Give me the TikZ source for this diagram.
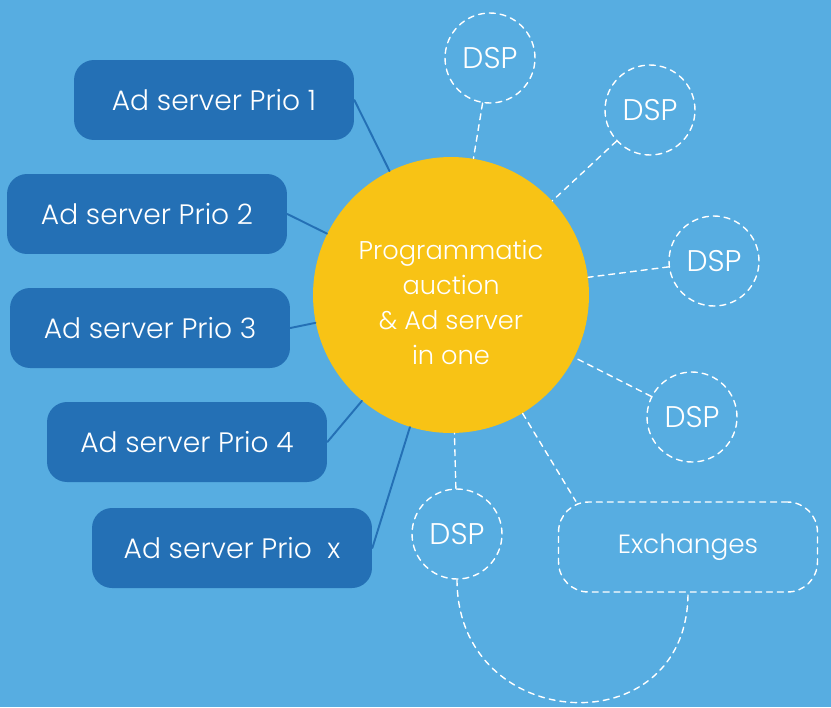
\documentclass[tikz,border=0pt]{standalone}
\usepackage{fontspec}
\setmainfont{Poppins}[UprightFont=* Light]
\usetikzlibrary{positioning}
\definecolor{bgblue}{HTML}{57ADE1}
\definecolor{boxblue}{HTML}{2470B5}
\definecolor{hubyellow}{HTML}{F8C315}
\begin{document}
\begin{tikzpicture}[x=0.02cm, y=-0.02cm, font=\fontsize{16}{20}\selectfont, line join=round, line cap=round,
  adbox/.style={fill=boxblue, rounded corners=0.4cm, minimum width=5.6cm, minimum height=1.6cm, text=white},
  hub/.style={circle, fill=hubyellow, minimum size=5.52cm, text=white, align=center, font=\fontsize{14.6}{19.9}\selectfont},
  dsp/.style={circle, draw=white, dash pattern=on 3.4pt off 2.8pt, line width=0.8pt, minimum size=1.8cm, text=white, font=\fontsize{17}{20}\selectfont},
  exch/.style={draw=white, dash pattern=on 3.4pt off 2.8pt, line width=0.8pt, rounded corners=0.6cm, minimum width=5.18cm, minimum height=1.8cm, text=white, font=\fontsize{15}{20}\selectfont},
  link/.style={draw=boxblue, line width=1.1pt},
  dlink/.style={draw=white, dash pattern=on 3.4pt off 2.8pt, line width=0.8pt}]
\fill[bgblue] (0,0) rectangle (831,707);
\useasboundingbox (0,0) rectangle (831,707);
% centre
\node[hub] (prog) at (451,295) {\rule{0pt}{19pt}Programmatic\\auction\\\& Ad server\\in one};
% ad servers
\node[adbox] (p1) at (214,100) {Ad server Prio 1};
\node[adbox] (p2) at (147,214) {Ad server Prio 2};
\node[adbox] (p3) at (150,328) {Ad server Prio 3};
\node[adbox] (p4) at (187,442) {Ad server Prio 4};
\node[adbox] (p5) at (232,548) {Ad server Prio\ \ x};
\foreach \i in {1,...,5} \draw[link] (p\i.east) -- (prog);
% buyers
\node[dsp] (d1) at (490,58) {DSP};
\node[dsp] (d2) at (650,110) {DSP};
\node[dsp] (d3) at (714,261) {DSP};
\node[dsp] (d4) at (692,417) {DSP};
\node[dsp] (d5) at (457,534) {DSP};
\node[exch] (ex) at (688,547) {Exchanges};
\foreach \i in {1,...,5} \draw[dlink] (d\i) -- (prog);
\draw[dlink] (prog) -- ([xshift=0.36cm]ex.north west);
\draw[dlink] (d5.south) .. controls +(0,155) and +(0,155) .. (ex.south);
\end{tikzpicture}
\end{document}
